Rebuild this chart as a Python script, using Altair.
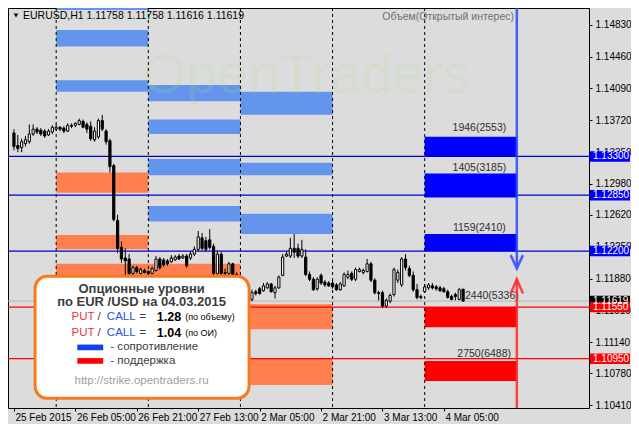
import json
import altair as alt
import pandas as pd

# ---------------- candles: bar index = hours from 26 Feb 2015 00:00 (weekend skipped) -------------
hours = list(range(-11, 107))
opens = [1.13572, 1.13426, 1.13404, 1.13448, 1.13471, 1.13560, 1.13617, 1.13605, 1.13594, 1.13549,
         1.13583, 1.13617, 1.13639, 1.13628, 1.13594, 1.13661, 1.13661, 1.13672, 1.13706, 1.13672,
         1.13650, 1.13493, 1.13527, 1.13716, 1.13594, 1.13482, 1.13192, 1.12555, 1.12243, 1.12120,
         1.12108, 1.11941, 1.12008, 1.11941, 1.11974, 1.11963, 1.11941, 1.11974, 1.12108, 1.12097,
         1.12086, 1.12075, 1.12097, 1.12142, 1.12120, 1.12142, 1.12120, 1.12165, 1.12220, 1.12354,
         1.12320, 1.12331, 1.12254, 1.11941, 1.12165, 1.11952, 1.11941, 1.12052, 1.11929, 1.11862,
         1.11784, 1.11650, 1.11639, 1.11728, 1.11762, 1.11739, 1.11773, 1.11818, 1.11717, 1.11773,
         1.11918, 1.12142, 1.12142, 1.12232, 1.12232, 1.12142, 1.12131, 1.11929, 1.11873, 1.11762,
         1.11918, 1.11840, 1.11829, 1.11829, 1.11807, 1.11751, 1.11796, 1.11896, 1.11941, 1.11873,
         1.11963, 1.11952, 1.11963, 1.12052, 1.11862, 1.11717, 1.11717, 1.11561, 1.11617, 1.11695,
         1.11862, 1.11807, 1.12108, 1.11996, 1.11918, 1.11751, 1.11672, 1.11728, 1.11773, 1.11796,
         1.11784, 1.11773, 1.11762, 1.11728, 1.11672, 1.11695, 1.11639, 1.11758]
highs = [1.13617, 1.13549, 1.13505, 1.13538, 1.13672, 1.13672, 1.13639, 1.13628, 1.13617, 1.13617,
         1.13661, 1.13672, 1.13650, 1.13650, 1.13684, 1.13684, 1.13695, 1.13739, 1.13728, 1.13695,
         1.13706, 1.13639, 1.13739, 1.13783, 1.13617, 1.13505, 1.13214, 1.12622, 1.12309, 1.12232,
         1.12165, 1.12030, 1.12030, 1.12008, 1.11996, 1.11974, 1.12019, 1.12142, 1.12131, 1.12120,
         1.12108, 1.12153, 1.12153, 1.12165, 1.12165, 1.12165, 1.12198, 1.12254, 1.12433, 1.12410,
         1.12365, 1.12455, 1.12287, 1.12209, 1.12187, 1.11996, 1.12075, 1.12064, 1.11952, 1.11884,
         1.11817, 1.11739, 1.11751, 1.11751, 1.11784, 1.11829, 1.11840, 1.11829, 1.11796, 1.11918,
         1.12165, 1.12198, 1.12354, 1.12399, 1.12287, 1.12331, 1.12220, 1.11963, 1.11896, 1.11896,
         1.11941, 1.11862, 1.11851, 1.11873, 1.11829, 1.11840, 1.11952, 1.11974, 1.11963, 1.12008,
         1.12008, 1.11996, 1.12108, 1.12075, 1.11884, 1.11739, 1.11739, 1.11650, 1.11706, 1.12008,
         1.11985, 1.12131, 1.12165, 1.12030, 1.11963, 1.11818, 1.11695, 1.11818, 1.11829, 1.11829,
         1.11807, 1.11796, 1.11784, 1.11751, 1.11695, 1.11717, 1.11773, 1.11758]
lows = [1.13371, 1.13349, 1.13349, 1.13415, 1.13448, 1.13538, 1.13560, 1.13538, 1.13516, 1.13538,
        1.13560, 1.13594, 1.13594, 1.13572, 1.13583, 1.13628, 1.13639, 1.13661, 1.13628, 1.13572,
        1.13482, 1.13471, 1.13505, 1.13594, 1.13437, 1.13113, 1.12544, 1.12176, 1.12064, 1.11918,
        1.11918, 1.11918, 1.11941, 1.11929, 1.11941, 1.11929, 1.11929, 1.11963, 1.11985, 1.12019,
        1.12030, 1.12064, 1.12086, 1.12097, 1.12108, 1.12008, 1.12097, 1.12142, 1.12198, 1.12209,
        1.12198, 1.12220, 1.11918, 1.11929, 1.11918, 1.11907, 1.11918, 1.11896, 1.11807, 1.11717,
        1.11661, 1.11628, 1.11617, 1.11684, 1.11695, 1.11728, 1.11762, 1.11717, 1.11650, 1.11762,
        1.11907, 1.12131, 1.12120, 1.12120, 1.12120, 1.12120, 1.11907, 1.11851, 1.11739, 1.11739,
        1.11807, 1.11784, 1.11784, 1.11762, 1.11739, 1.11739, 1.11784, 1.11873, 1.11851, 1.11851,
        1.11952, 1.11929, 1.11952, 1.11840, 1.11695, 1.11628, 1.11538, 1.11538, 1.11594, 1.11672,
        1.11829, 1.11784, 1.11974, 1.11896, 1.11728, 1.11639, 1.11639, 1.11717, 1.11751, 1.11751,
        1.11739, 1.11728, 1.11717, 1.11650, 1.11628, 1.11628, 1.11628, 1.11616]
closes = [1.13415, 1.13393, 1.13471, 1.13493, 1.13560, 1.13617, 1.13583, 1.13560, 1.13538, 1.13594,
          1.13639, 1.13639, 1.13617, 1.13594, 1.13661, 1.13650, 1.13684, 1.13716, 1.13639, 1.13617,
          1.13505, 1.13594, 1.13716, 1.13617, 1.13471, 1.13181, 1.12567, 1.12232, 1.12108, 1.12086,
          1.11941, 1.12008, 1.11963, 1.11985, 1.11952, 1.11941, 1.11996, 1.12108, 1.12008, 1.12041,
          1.12052, 1.12120, 1.12131, 1.12108, 1.12142, 1.12030, 1.12165, 1.12220, 1.12365, 1.12232,
          1.12220, 1.12243, 1.11941, 1.12165, 1.11941, 1.11941, 1.12052, 1.11929, 1.11862, 1.11784,
          1.11695, 1.11717, 1.11717, 1.11706, 1.11706, 1.11796, 1.11818, 1.11728, 1.11773, 1.11896,
          1.12131, 1.12165, 1.12232, 1.12187, 1.12142, 1.12220, 1.11929, 1.11873, 1.11751, 1.11873,
          1.11829, 1.11807, 1.11796, 1.11784, 1.11751, 1.11818, 1.11929, 1.11929, 1.11873, 1.11985,
          1.11985, 1.11974, 1.12052, 1.11862, 1.11717, 1.11706, 1.11561, 1.11628, 1.11684, 1.11985,
          1.11952, 1.12108, 1.12008, 1.11918, 1.11751, 1.11661, 1.11661, 1.11784, 1.11807, 1.11773,
          1.11762, 1.11739, 1.11728, 1.11661, 1.11639, 1.11672, 1.11751, 1.11619]

day_starts = [0, 24, 48, 72, 96]

x_tick_pos = [-11, 5, 21, 37, 53, 69, 85, 101]
x_tick_labels = ["25 Feb 2015", "26 Feb 05:00", "26 Feb 21:00", "27 Feb 13:00",
                 "2 Mar 05:00", "2 Mar 21:00", "3 Mar 13:00", "4 Mar 05:00"]
y_tick_vals = [1.14830, 1.14460, 1.14090, 1.13720, 1.13350, 1.12980, 1.12620,
               1.12250, 1.11880, 1.11510, 1.11140, 1.10780, 1.10410]

# ---------------- option level bands -------------
band_start = [0, 0, 0, 0, 0, 0,
              24, 24, 24, 24, 24,
              48, 48, 48, 48, 48,
              96, 96, 96, 96, 96]
band_end = [24, 24, 24, 24, 24, 24,
            48, 48, 48, 48, 48,
            72, 72, 72, 72, 72,
            120, 120, 120, 120, 120]
band_low = [1.15001, 1.14577, 1.14052, 1.12879, 1.12220, 1.11785,
            1.13940, 1.13560, 1.13080, 1.12544, 1.11785,
            1.13784, 1.13080, 1.12399, 1.11293, 1.10645,
            1.13292, 1.12823, 1.12198, 1.11315, 1.10690]
band_high = [1.15300, 1.14767, 1.14186, 1.13114, 1.12388, 1.12052,
             1.14130, 1.13728, 1.13270, 1.12723, 1.12052,
             1.14052, 1.13225, 1.12633, 1.11583, 1.10958,
             1.13527, 1.13102, 1.12399, 1.11550, 1.10924]
band_kind = ["old_res", "old_res", "old_res", "old_sup", "old_sup", "old_sup",
             "old_res", "old_res", "old_res", "old_res", "old_sup",
             "old_res", "old_res", "old_res", "old_sup", "old_sup",
             "res", "res", "res", "sup", "sup"]

band_labels = ["1946(2553)", "1405(3185)", "1159(2410)", "2440(5336)", "2750(6488)"]
band_label_x = [110.25, 110.25, 110.25, 113.5, 111.5]
band_label_y = [1.13627, 1.13169, 1.12466, 1.11673, 1.11002]

res_levels = [1.13300, 1.12850, 1.12200]
sup_levels = [1.11550, 1.10950]
last_price = 1.11619

tag_prices = [1.13300, 1.12850, 1.12200, 1.11619, 1.11550, 1.10950]
tag_colors = ["#0000FF", "#0000FF", "#0000FF", "#000000", "#FF0000", "#FF0000"]

# arrows (bar index, price)
arrow_x = 120
down_shaft = [1.15024, 1.12030]
down_head_x = [118.4, 120, 121.6]
down_head_y = [1.12153, 1.11997, 1.12153]
up_shaft = [1.10377, 1.11874]
up_head_x = [118.4, 120, 121.6]
up_head_y = [1.11706, 1.11874, 1.11706]

# ---------------- layout -------------
W, H = 581, 400
BG = "#DCDCDC"
FONT = "Liberation Sans"

xscale = alt.Scale(domain=[-11.25, 137.5], nice=False, zero=False)
yscale = alt.Scale(domain=[1.10377, 1.15024], nice=False, zero=False)

x_label_expr = "{}[indexof({}, datum.value)]".format(json.dumps(x_tick_labels, ensure_ascii=False), json.dumps(x_tick_pos))
xaxis = alt.Axis(orient="bottom", values=x_tick_pos, labelExpr=x_label_expr, title=None, grid=False,
                 domain=False, tickColor="black", tickSize=3, labelAlign="left", labelBaseline="top",
                 labelPadding=1, labelOffset=1, labelFont=FONT, labelFontSize=10, labelColor="black",
                 labelOverlap=False, labelFlush=False)
yaxis = alt.Axis(orient="right", values=y_tick_vals, labelExpr="format(datum.value, '.5f')", title=None,
                 grid=False, domain=False, tickColor="black", tickSize=3, labelPadding=3, labelFont=FONT,
                 labelFontSize=10, labelColor="black", labelOverlap=False, labelFlush=False)


def X(f):
    return alt.X(f, type="quantitative", scale=xscale, axis=xaxis)


def Y(f):
    return alt.Y(f, type="quantitative", scale=yscale, axis=yaxis)


candles = pd.DataFrame({"h": hours, "open": opens, "high": highs, "low": lows, "close": closes})
bands = pd.DataFrame({"x0": band_start, "x1": band_end, "lo": band_low, "hi": band_high, "kind": band_kind})
blabels = pd.DataFrame({"x": band_label_x, "y": band_label_y, "t": band_labels})
levels = pd.DataFrame({"p": res_levels + sup_levels,
                       "c": ["#0000CC"] * len(res_levels) + ["#FF0000"] * len(sup_levels)})
days = pd.DataFrame({"h": day_starts})
tags = pd.DataFrame({"p": tag_prices, "c": tag_colors, "t": ["%.5f" % v for v in tag_prices]})

layers = []

# current price line
layers.append(alt.Chart(pd.DataFrame({"p": [last_price]})).mark_rule(color="#B4B4B4", strokeWidth=1)
              .encode(y=Y("p")))

# option bands
layers.append(alt.Chart(bands).mark_rect(clip=True).encode(
    x=X("x0"), x2="x1", y=Y("lo"), y2="hi",
    color=alt.Color("kind:N", legend=None,
                    scale=alt.Scale(domain=["old_res", "old_sup", "res", "sup"],
                                    range=["#6495ED", "#FF7F50", "#0000FF", "#FF0000"]))))

# watermark
layers.append(alt.Chart(pd.DataFrame({"x": [22.5], "y": [1.14041], "t": ["OpenTraders"]}))
              .mark_text(align="left", baseline="alphabetic", font=FONT, fontSize=56, color="#A8DC90",
                         opacity=0.17)
              .encode(x=X("x"), y=Y("y"), text="t:N"))

# day separators
layers.append(alt.Chart(days).mark_rule(color="black", strokeDash=[3, 3], strokeWidth=1).encode(x=X("h")))

# level lines
layers.append(alt.Chart(levels).mark_rule(strokeWidth=1.2).encode(y=Y("p"), color=alt.Color("c:N", scale=None)))

# candles
layers.append(alt.Chart(candles).mark_rule(color="black", strokeWidth=1).encode(x=X("h"), y=Y("low"), y2="high"))
layers.append(alt.Chart(candles).mark_bar(size=2.2, stroke="black", strokeWidth=1).encode(
    x=X("h"), y=Y("open"), y2="close",
    fill=alt.condition("datum.close >= datum.open", alt.value("white"), alt.value("black"))))

# band labels
layers.append(alt.Chart(blabels).mark_text(font=FONT, fontSize=10.5, color="#303030", align="center",
                                           baseline="middle")
              .encode(x=X("x"), y=Y("y"), text="t:N"))

# arrows
layers.append(alt.Chart(pd.DataFrame({"x": [arrow_x], "a": [down_shaft[0]], "b": [down_shaft[1]]}))
              .mark_rule(color="#2A46FF", strokeWidth=2.5, opacity=0.85).encode(x=X("x"), y=Y("a"), y2="b"))
layers.append(alt.Chart(pd.DataFrame({"x": down_head_x, "y": down_head_y, "o": [0, 1, 2]}))
              .mark_line(color="#2A46FF", strokeWidth=2.5, opacity=0.85)
              .encode(x=X("x"), y=Y("y"), order="o:Q"))
layers.append(alt.Chart(pd.DataFrame({"x": [arrow_x], "a": [up_shaft[0]], "b": [up_shaft[1]]}))
              .mark_rule(color="#FF2A2A", strokeWidth=2.5, opacity=0.85).encode(x=X("x"), y=Y("a"), y2="b"))
layers.append(alt.Chart(pd.DataFrame({"x": up_head_x, "y": up_head_y, "o": [0, 1, 2]}))
              .mark_line(color="#FF2A2A", strokeWidth=2.5, opacity=0.85)
              .encode(x=X("x"), y=Y("y"), order="o:Q"))

# ---------------- info box -------------
box = pd.DataFrame({"x0": [-5.5], "x1": [50.25], "y0": [1.10489], "y1": [1.11907]})
layers.append(alt.Chart(box).mark_rect(cornerRadius=12, fill="white", stroke="#F47B20", strokeWidth=3)
              .encode(x=X("x0"), x2="x1", y=Y("y0"), y2="y1"))

box_titles = ["Опционные уровни", "по EUR /USD на 04.03.2015"]
box_title_y = [1.11762, 1.11606]
ratio_values = ["1.28", "1.04"]
ratio_notes = ["(по объему)", "(по ОИ)"]
ratio_y = [1.11438, 1.11248]
legend_labels = ["- сопротивление", "- поддержка"]
legend_y = [1.11081, 1.10924]
legend_colors = ["#1040F0", "#FF0000"]
url_text = "http://strike.opentraders.ru"


def txt(df, **kw):
    return alt.Chart(df).mark_text(baseline="middle", font=FONT, **kw).encode(x=X("x"), y=Y("y"), text="t:N")


layers.append(txt(pd.DataFrame({"x": [22.25, 22.25], "y": box_title_y, "t": box_titles}),
                  align="center", fontSize=13, fontWeight="bold", color="#3C3C3C"))
layers.append(txt(pd.DataFrame({"x": [4.0, 4.0], "y": ratio_y, "t": ["PUT", "PUT"]}),
                  align="left", fontSize=11.5, color="#E8383C"))
layers.append(txt(pd.DataFrame({"x": [11.2, 11.2], "y": ratio_y, "t": ["/", "/"]}),
                  align="center", fontSize=11.5, color="#3C3C3C"))
layers.append(txt(pd.DataFrame({"x": [13.2, 13.2], "y": ratio_y, "t": ["CALL", "CALL"]}),
                  align="left", fontSize=11.5, color="#3050E0"))
layers.append(txt(pd.DataFrame({"x": [22.6, 22.6], "y": ratio_y, "t": ["=", "="]}),
                  align="center", fontSize=11.5, color="#3C3C3C"))
layers.append(txt(pd.DataFrame({"x": [26.2, 26.2], "y": ratio_y, "t": ratio_values}),
                  align="left", fontSize=12.5, fontWeight="bold", color="black"))
layers.append(txt(pd.DataFrame({"x": [33.6, 33.6], "y": ratio_y, "t": ratio_notes}),
                  align="left", fontSize=9, color="black"))
layers.append(alt.Chart(pd.DataFrame({"x0": [5.5, 5.5], "x1": [12.25, 12.25],
                                      "y0": [legend_y[0] - 0.00033, legend_y[1] - 0.00033],
                                      "y1": [legend_y[0] + 0.00033, legend_y[1] + 0.00033],
                                      "c": legend_colors}))
              .mark_rect().encode(x=X("x0"), x2="x1", y=Y("y0"), y2="y1", color=alt.Color("c:N", scale=None)))
layers.append(txt(pd.DataFrame({"x": [14.1, 14.1], "y": legend_y, "t": legend_labels}),
                  align="left", fontSize=11.5, color="#3C3C3C"))
layers.append(txt(pd.DataFrame({"x": [22.25], "y": [1.10690], "t": [url_text]}),
                  align="center", fontSize=11.5, color="#A0A0A0"))

# ---------------- header texts -------------
layers.append(alt.Chart(pd.DataFrame({"a": [1]})).mark_point(shape="triangle-down", filled=True, size=22,
                                                             color="black", opacity=1)
              .encode(x=alt.value(8), y=alt.value(7.5)))
layers.append(alt.Chart(pd.DataFrame({"t": ["EURUSD,H1  1.11758 1.11758 1.11616 1.11619"]}))
              .mark_text(align="left", baseline="middle", font=FONT, fontSize=10.5, color="black")
              .encode(x=alt.value(15), y=alt.value(8), text="t:N"))
layers.append(alt.Chart(pd.DataFrame({"t": ["Объем(Открытый интерес)"]}))
              .mark_text(align="right", baseline="middle", font=FONT, fontSize=10.5, color="#707070")
              .encode(x=alt.value(506), y=alt.value(9), text="t:N"))

# ---------------- price tags on the axis -------------
layers.append(alt.Chart(tags).mark_rule(strokeWidth=10.5, strokeCap="butt").encode(
    x=alt.value(W + 1), x2=alt.value(W + 41), y=Y("p"), color=alt.Color("c:N", scale=None)))
layers.append(alt.Chart(tags).mark_text(align="left", baseline="middle", font=FONT, fontSize=10,
                                        color="white")
              .encode(x=alt.value(W + 4), y=Y("p"), text="t:N"))

chart = alt.layer(*layers).properties(
    width=W, height=H,
    autosize=alt.AutoSizeParams(type="none"),
    padding={"left": 0, "top": 0, "right": 42, "bottom": 16},
    background=BG,
).configure_view(stroke="black", strokeWidth=1, fill=BG)

chart.save("out.html", embed_options={"renderer": "svg", "actions": False})
